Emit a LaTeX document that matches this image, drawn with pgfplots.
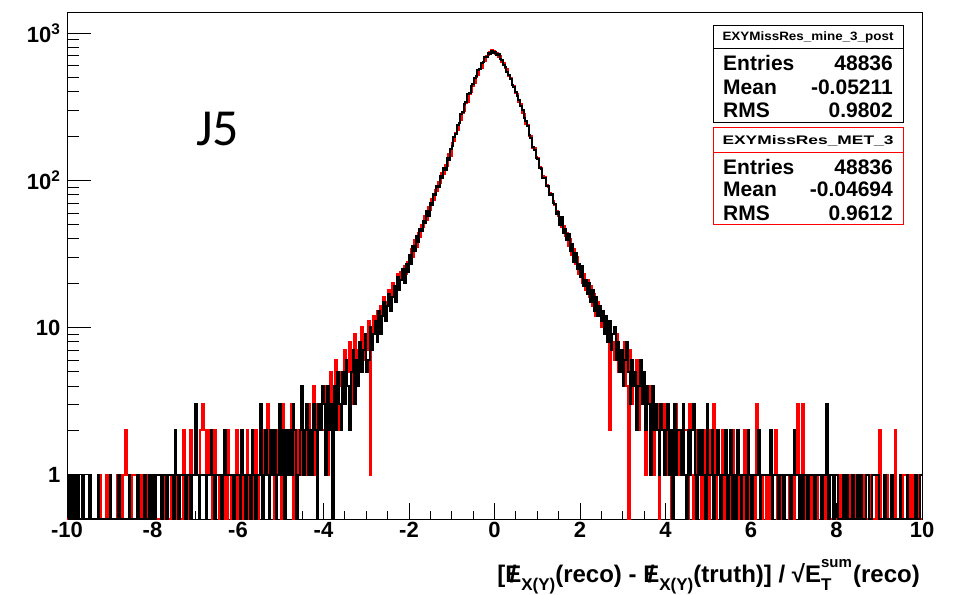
\documentclass[border=0pt]{standalone}
\usepackage{pgfplots}
\usepackage{pgfplotstable}
\pgfplotsset{compat=1.18}
\usepackage{graphicx}
\usepackage{fontspec}
\setmainfont{Liberation Sans}
\newfontfamily\jfont{Carlito}
\newcommand\Eslash{\ooalign{E\cr\hidewidth/\hidewidth\cr}}
\newcommand\lsub[1]{\raisebox{-0.34em}{\fontsize{17}{17}\selectfont #1}}

% black histogram: EXYMissRes_mine_3_post, 500 bins of width 0.04 on [-10,10] (+ closing value)
\pgfplotstableread[row sep=\\]{y\\
1\\0\\1\\0\\1\\0\\1\\0\\0\\1\\
0\\0\\0\\1\\0\\0\\0\\0\\1\\0\\
0\\0\\0\\0\\0\\1\\0\\0\\0\\0\\
1\\0\\0\\0\\0\\0\\1\\0\\0\\0\\
0\\1\\0\\0\\0\\1\\0\\0\\1\\0\\
1\\0\\1\\1\\1\\0\\1\\1\\0\\1\\
1\\1\\0\\2\\1\\0\\1\\1\\1\\0\\
1\\1\\0\\1\\1\\3\\1\\0\\1\\1\\
1\\0\\1\\1\\2\\1\\0\\1\\1\\1\\
0\\1\\2\\1\\1\\1\\1\\0\\1\\1\\
1\\0\\2\\1\\0\\1\\1\\0\\2\\1\\
0\\1\\1\\3\\0\\1\\2\\1\\0\\2\\
1\\2\\0\\1\\3\\1\\2\\0\\2\\1\\
2\\1\\3\\2\\0\\1\\2\\4\\1\\2\\
3\\1\\2\\1\\3\\2\\0\\3\\2\\4\\
3\\1\\4\\2\\3\\0\\4\\2\\5\\3\\
2\\5\\3\\6\\4\\2\\5\\7\\3\\6\\
4\\8\\5\\7\\9\\5\\6\\10\\7\\9\\
11\\8\\13\\9\\12\\15\\11\\14\\17\\13\\
16\\19\\15\\22\\18\\21\\25\\20\\27\\24\\
31\\27\\36\\33\\42\\38\\47\\45\\53\\51\\
62\\57\\70\\68\\81\\79\\92\\90\\107\\104\\
121\\118\\141\\137\\163\\172\\196\\205\\237\\243\\
280\\291\\330\\338\\384\\392\\437\\449\\497\\508\\
563\\572\\628\\634\\688\\690\\731\\719\\752\\
731\\742\\709\\716\\664\\651\\603\\590\\548\\522\\
490\\447\\431\\396\\371\\352\\318\\300\\263\\254\\
232\\203\\194\\168\\161\\141\\139\\122\\119\\104\\
103\\91\\92\\79\\81\\70\\69\\59\\61\\50\\
56\\44\\47\\39\\43\\33\\37\\28\\32\\25\\
27\\
22\\26\\19\\21\\17\\20\\15\\18\\13\\16\\
12\\14\\11\\13\\9\\12\\8\\11\\7\\9\\
10\\6\\8\\5\\7\\4\\6\\8\\5\\3\\
6\\4\\5\\2\\4\\6\\3\\5\\2\\4\\
3\\1\\4\\2\\3\\2\\1\\3\\2\\1\\
2\\3\\1\\2\\0\\3\\1\\2\\2\\1\\
3\\1\\0\\2\\1\\2\\3\\1\\0\\2\\
1\\2\\1\\0\\3\\1\\1\\2\\0\\1\\
2\\1\\0\\1\\1\\2\\0\\1\\2\\0\\
1\\0\\2\\1\\0\\1\\1\\0\\2\\1\\
0\\1\\1\\1\\2\\0\\1\\1\\1\\1\\
1\\2\\0\\1\\1\\1\\0\\1\\1\\0\\
1\\1\\1\\0\\1\\2\\1\\1\\0\\1\\
0\\1\\1\\0\\1\\1\\1\\0\\1\\1\\
1\\0\\1\\1\\3\\0\\1\\1\\0\\1\\
1\\0\\0\\0\\1\\0\\1\\0\\0\\1\\
0\\0\\1\\0\\1\\0\\0\\1\\1\\0\\
0\\1\\1\\1\\1\\0\\0\\0\\1\\0\\
0\\0\\1\\0\\0\\0\\0\\1\\0\\0\\
0\\1\\0\\0\\0\\0\\1\\0\\0\\1\\
1\\
}\blackdata

% red histogram: EXYMissRes_MET_3
\pgfplotstableread[row sep=\\]{y\\
0\\0\\0\\0\\1\\0\\0\\0\\0\\0\\
0\\0\\0\\0\\0\\0\\0\\0\\1\\1\\
0\\0\\0\\1\\0\\0\\0\\0\\0\\1\\
1\\1\\0\\1\\2\\1\\1\\0\\1\\1\\
1\\0\\0\\1\\0\\0\\0\\1\\0\\0\\
1\\0\\0\\0\\0\\1\\0\\1\\0\\0\\
0\\1\\0\\0\\1\\0\\0\\0\\2\\0\\
1\\0\\2\\1\\1\\2\\1\\1\\2\\3\\
2\\1\\2\\1\\1\\0\\2\\1\\1\\0\\
1\\0\\1\\0\\2\\1\\0\\1\\0\\2\\
0\\1\\1\\0\\1\\2\\0\\1\\1\\0\\
2\\0\\1\\1\\0\\2\\1\\3\\0\\1\\
1\\0\\2\\1\\1\\0\\3\\1\\2\\1\\
1\\3\\0\\2\\1\\2\\1\\3\\2\\1\\
2\\3\\1\\2\\4\\1\\3\\2\\3\\2\\
2\\4\\1\\3\\5\\2\\3\\6\\2\\4\\
5\\3\\7\\4\\5\\8\\3\\6\\9\\6\\
7\\5\\10\\6\\8\\7\\11\\1\\8\\12\\
10\\13\\9\\14\\12\\16\\13\\15\\18\\14\\
20\\17\\19\\23\\18\\24\\22\\26\\23\\28\\
29\\34\\30\\39\\35\\44\\41\\50\\48\\57\\
54\\66\\63\\75\\73\\86\\84\\98\\96\\112\\
110\\127\\125\\150\\146\\180\\186\\210\\219\\245\\
256\\287\\297\\336\\342\\388\\398\\440\\455\\500\\
515\\566\\580\\631\\642\\693\\705\\742\\766\\
758\\722\\731\\688\\693\\640\\628\\577\\566\\509\\
496\\441\\439\\389\\383\\338\\330\\286\\281\\241\\
238\\200\\199\\166\\165\\143\\142\\124\\121\\107\\
105\\93\\90\\82\\79\\72\\68\\62\\57\\55\\
48\\49\\42\\44\\36\\40\\31\\34\\27\\30\\
23\\
24\\20\\23\\18\\21\\16\\19\\14\\17\\12\\
15\\13\\10\\12\\11\\9\\10\\2\\9\\8\\
6\\9\\5\\7\\5\\6\\8\\4\\0\\7\\
3\\5\\4\\6\\2\\4\\3\\5\\1\\3\\
4\\2\\3\\1\\2\\3\\0\\2\\3\\1\\
3\\1\\2\\0\\2\\1\\3\\1\\2\\2\\
1\\2\\2\\0\\3\\1\\0\\2\\1\\1\\
2\\0\\1\\2\\1\\0\\2\\1\\3\\0\\
1\\1\\0\\2\\0\\1\\1\\0\\1\\2\\
0\\1\\1\\0\\1\\0\\2\\1\\0\\1\\
1\\1\\0\\3\\1\\1\\0\\1\\1\\0\\
1\\0\\1\\1\\2\\0\\1\\1\\0\\1\\
1\\1\\0\\1\\1\\0\\1\\3\\1\\0\\
3\\1\\0\\1\\1\\0\\1\\1\\0\\1\\
1\\0\\1\\0\\1\\1\\0\\0\\1\\0\\
0\\1\\0\\1\\0\\0\\1\\0\\1\\0\\
1\\0\\0\\0\\1\\0\\1\\0\\0\\1\\
0\\0\\0\\1\\0\\2\\0\\0\\0\\1\\
0\\0\\0\\0\\2\\0\\0\\1\\0\\1\\
1\\0\\1\\0\\1\\0\\0\\0\\1\\0\\
0\\
}\reddata

\begin{document}
\begin{tikzpicture}
\useasboundingbox (-67pt,-75pt) rectangle (888pt,519pt);
\begin{axis}[
  at={(0pt,0pt)}, anchor=south west,
  scale only axis, width=855pt, height=507pt,
  xmin=-10, xmax=10,
  ymode=log, ymin=0.5, ymax=1390,
  tick pos=left, tick align=inside,
  xtick={-10,-8,...,10},
  xticklabels={-10,-8,-6,-4,-2,0,2,4,6,8,10},
  minor x tick num=3,
  ytick={1,10,100,1000},
  yticklabels={1,10,10\textsuperscript{2},10\textsuperscript{3}},
  minor ytick={0.5,0.6,0.7,0.8,0.9,2,3,4,5,6,7,8,9,20,30,40,50,60,70,80,90,200,300,400,500,600,700,800,900},
  xtick style={/pgfplots/major tick length=16pt,/pgfplots/minor tick length=8pt,black,line width=0.8pt},
  ytick style={/pgfplots/major tick length=24pt,/pgfplots/minor tick length=12pt,black,line width=0.8pt},
  tick label style={font=\fontsize{22}{26}\selectfont\bfseries},
  yticklabel style={xshift=-3pt},
  axis line style={line width=0.8pt},
]
\addplot[const plot, red, line width=2pt] table[x index=0, y index=0, x expr={-10+0.04*\coordindex}, y expr={max(\thisrowno{0},0.5)}]{\reddata};
\addplot[const plot, black, line width=2pt] table[x index=0, y index=0, x expr={-10+0.04*\coordindex}, y expr={max(\thisrowno{0},0.5)}]{\blackdata};
\end{axis}

% stat boxes
\draw[black, line width=0.8pt, fill=white] (646pt,397pt) rectangle (836pt,494pt);
\draw[black, line width=0.8pt] (646pt,470.5pt) -- (836pt,470.5pt);
\node[inner sep=0pt] at (741pt,482pt) {\resizebox{171pt}{8.8pt}{\bfseries EXYMissRes\_mine\_3\_post}};
\begin{scope}[every node/.style={inner sep=0pt, font=\fontsize{21}{24}\selectfont\bfseries}]
\node[anchor=west] at (656pt,456pt) {Entries};
\node[anchor=east] at (826pt,456pt) {48836};
\node[anchor=west] at (656pt,432pt) {Mean};
\node[anchor=east] at (826pt,432pt) {-0.05211};
\node[anchor=west] at (656pt,409pt) {RMS};
\node[anchor=east] at (826pt,409pt) {0.9802};
\end{scope}

\draw[red, line width=0.8pt, fill=white] (646pt,295pt) rectangle (836pt,392pt);
\draw[red, line width=0.8pt] (646pt,367pt) -- (836pt,367pt);
\node[inner sep=0pt] at (741pt,378pt) {\resizebox{171pt}{9pt}{\bfseries EXYMissRes\_MET\_3}};
\begin{scope}[every node/.style={inner sep=0pt, font=\fontsize{21}{24}\selectfont\bfseries}]
\node[anchor=west] at (656pt,352pt) {Entries};
\node[anchor=east] at (826pt,352pt) {48836};
\node[anchor=west] at (656pt,330pt) {Mean};
\node[anchor=east] at (826pt,330pt) {-0.04694};
\node[anchor=west] at (656pt,306pt) {RMS};
\node[anchor=east] at (826pt,306pt) {0.9612};
\end{scope}

\node[anchor=base west, inner sep=0pt, font=\jfont\fontsize{52}{58}\selectfont] at (129pt,373pt) {J5};

\node[anchor=base east, inner sep=0pt, font=\fontsize{24}{28}\selectfont\bfseries] at (853pt,-63pt)
  {[\Eslash\lsub{X(Y)}(reco) - \Eslash\lsub{X(Y)}(truth)] / √E\makebox[0pt][l]{\raisebox{0.62em}{\fontsize{15}{15}\selectfont sum}}\makebox[32pt][l]{\lsub{T}}(reco)};
\end{tikzpicture}
\end{document}
